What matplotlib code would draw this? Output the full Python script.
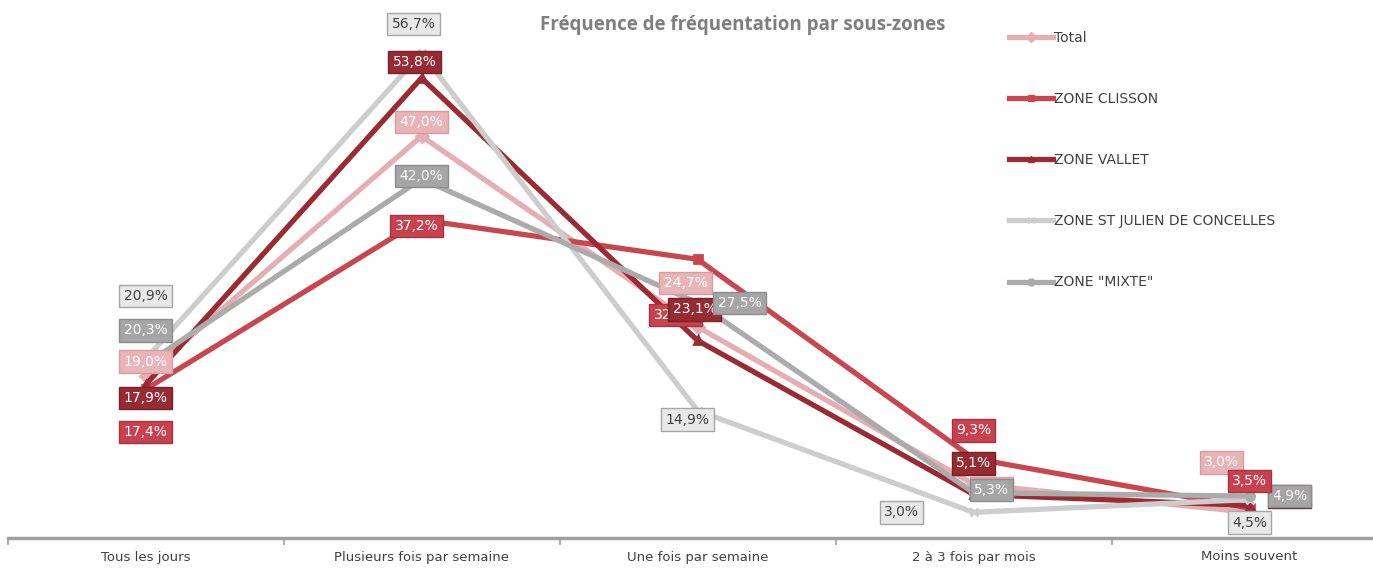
import matplotlib.pyplot as plt
from matplotlib.lines import Line2D

categories = ["Tous les jours", "Plusieurs fois par semaine", "Une fois par semaine",
              "2 à 3 fois par mois", "Moins souvent"]

total = [19.0, 47.0, 24.7, 6.3, 3.0]
clisson = [17.4, 37.2, 32.6, 9.3, 3.5]
vallet = [17.9, 53.8, 23.1, 5.1, 3.8]
st_julien = [20.9, 56.7, 14.9, 3.0, 4.5]
mixte = [20.3, 42.0, 27.5, 5.3, 4.9]

names = ["Total", "ZONE CLISSON", "ZONE VALLET", "ZONE ST JULIEN DE CONCELLES", 'ZONE "MIXTE"']
series = [total, clisson, vallet, st_julien, mixte]
line_colors = ["#E4AEB3", "#C8474F", "#9B2B33", "#CDCDCD", "#ABABAB"]
box_colors = ["#E8B4B8", "#C8414F", "#962B33", "#E8E8E8", "#A5A5A5"]
edge_colors = ["#D79CA2", "#A83340", "#7A1F26", "#A6A6A6", "#8C8C8C"]
text_colors = ["white", "white", "white", "#404040", "white"]
markers = ["D", "s", "^", "x", "o"]

# label offsets (px) for each series/category
offsets = [
    [(0, 14), (0, 14), (-12, 44), (18, -4), (-28, 50)],
    [(0, -43), (-5, -6), (-22, -56), (0, 28), (0, 27)],
    [(0, -13), (-7, 16), (-3, 31), (0, 31), (40, 9)],
    [(0, 63), (-8, 29), (-10, -9), (-72, 0), (0, -23)],
    [(0, 34), (0, 3), (42, 0), (18, 3), (40, 0)],
]
label_z = [
    [6, 6, 7, 5, 6],
    [6, 6, 5, 6, 7],
    [7, 6, 8, 7, 4],
    [6, 6, 6, 6, 6],
    [6, 6, 9, 6, 6],
]

W, H = 1373, 569
fig = plt.figure(figsize=(W / 100, H / 100), dpi=100)
ax = fig.add_axes([7.5 / W, (H - 538) / H, 1380 / W, 538 / H])
ax.set_xlim(-0.5, 4.5)
ax.set_ylim(0, 538 / 8.55)

x = list(range(len(categories)))
order = [0, 1, 2, 4, 3]
for i in order:
    ax.plot(x, series[i], color=line_colors[i], lw=3.8, marker=markers[i], ms=6,
            mec=line_colors[i], mfc=line_colors[i], mew=2, zorder=2 + i * 0.1,
            solid_capstyle="round", clip_on=False)

for i, vals in enumerate(series):
    for j, v in enumerate(vals):
        dx, dy = offsets[i][j]
        ax.annotate(f"{v:.1f}%".replace(".", ","), (j, v),
                    xytext=(dx * 0.72, dy * 0.72), textcoords="offset points",
                    ha="center", va="center", fontsize=10, color=text_colors[i],
                    zorder=label_z[i][j], annotation_clip=False,
                    bbox=dict(boxstyle="square,pad=0.3", fc=box_colors[i],
                              ec=edge_colors[i], lw=1))

for s in ["top", "right", "left"]:
    ax.spines[s].set_visible(False)
ax.spines["bottom"].set_color("#A0A0A0")
ax.spines["bottom"].set_linewidth(2.5)
ax.set_yticks([])
ax.set_xticks(x)
ax.set_xticklabels(categories, fontsize=9.5, color="#404040")
ax.tick_params(axis="x", length=0, pad=9)
ax.set_xticks([-0.5, 0.5, 1.5, 2.5, 3.5], minor=True)
ax.tick_params(axis="x", which="minor", length=5, width=1.2, color="#A0A0A0")

fig.text(743 / W, 1 - 25 / H, "Fréquence de fréquentation par sous-zones",
         ha="center", va="center", fontsize=13.5, fontweight="bold",
         color="#7F7F7F", family="Open Sans")

handles = [Line2D([], [], color=line_colors[i], lw=3.8, marker=markers[i], ms=5,
                  mec=line_colors[i]) for i in range(5)]
fig.legend(handles, names, loc="upper left", bbox_to_anchor=(1003 / W, 1 - 25 / H),
           frameon=False, fontsize=10, labelcolor="#404040", labelspacing=3.4,
           handlelength=3.2, handletextpad=0.1, borderaxespad=0)

fig.savefig("out.png", dpi=100)
